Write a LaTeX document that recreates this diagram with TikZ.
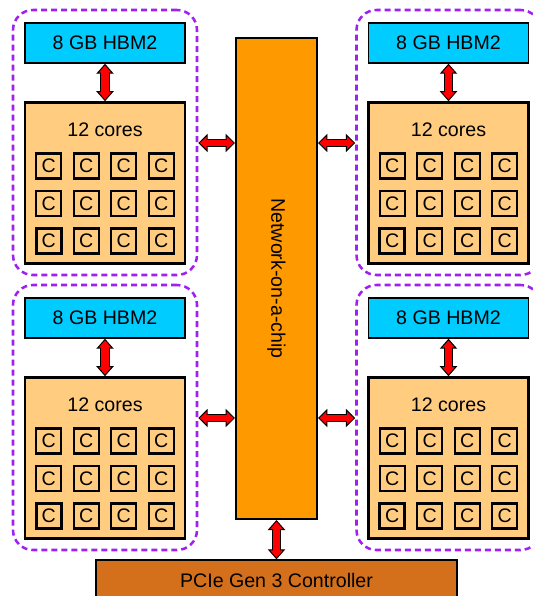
\documentclass[tikz,border=0pt]{standalone}
\usepackage{fontspec}
\setmainfont{Liberation Sans}
\usetikzlibrary{arrows.meta}

\definecolor{hbmblue}{RGB}{0,204,255}
\definecolor{corebg}{RGB}{255,204,128}
\definecolor{nocorange}{RGB}{255,153,0}
\definecolor{pciebrown}{RGB}{212,112,28}
\definecolor{grpviolet}{RGB}{160,32,240}

\tikzset{
    every node/.style={font=\fontsize{14.7pt}{17pt}\selectfont},
    hbmbox/.style={draw, line width=1.1pt, fill=hbmblue, minimum width=120pt, minimum height=30pt, inner sep=0pt},
    corebox/.style={draw, line width=2.2pt, fill=corebg, minimum width=120pt, minimum height=120.5pt, inner sep=0pt},
    cell/.style={draw, minimum size=18.75pt, inner sep=0pt},
    grpbox/.style={draw=grpviolet, line width=1.9pt, dash pattern=on 4.5pt off 3pt, rounded corners=15pt, minimum width=138pt, minimum height=198.75pt, inner sep=0pt},
    vlink/.style={draw=black, line width=7pt,
        {Triangle[length=7.5pt, width=13pt, fill=red, color=black, line width=0.75pt]}-{Triangle[length=7.5pt, width=13pt, fill=red, color=black, line width=0.75pt]},
        postaction={draw=red, line width=5.5pt, -, shorten <=6pt, shorten >=6pt}},
    hlink/.style={draw=black, line width=6.5pt,
        {Triangle[length=7pt, width=13.5pt, fill=red, color=black, line width=0.75pt]}-{Triangle[length=7pt, width=13.5pt, fill=red, color=black, line width=0.75pt]},
        postaction={draw=red, line width=5pt, -, shorten <=5.5pt, shorten >=5.5pt}}
}

\begin{document}
\begin{tikzpicture}[x=0.75pt, y=-0.75pt]
    \useasboundingbox (0,0) rectangle (532,596);
    \node[draw, line width=1.5pt, fill=nocorange, minimum width=60.75pt, minimum height=360.75pt, inner sep=0pt] (noc) at (276.5,278.5) {\rotatebox{-90}{Network-on-a-chip}};
    \node[draw, line width=1pt, fill=pciebrown, minimum width=270.75pt, minimum height=30pt, inner sep=0pt] (pcie) at (276.5,580) {PCIe Gen 3 Controller};
    \draw[vlink] (noc) -- (pcie);
    \foreach \n/\x/\y/\a/\b in {1/105/43/east/west, 2/448.5/43/west/east, 3/105/318/east/west, 4/448.5/318/west/east} {
        \begin{scope}[shift={(\x,\y)}]
            \node[grpbox] (grp\n) at (0,99.5) {};
            \node[hbmbox] (hbm\n) at (0,0) {8 GB HBM2};
            \node[corebox] (cores\n) at (0,140) {};
            \node (lbl\n) at (0,87) {12 cores};
            \foreach \i in {0,...,3}
                \foreach \j in {0,...,2} {
                    \pgfmathsetmacro\lw{(\i==0 && \j==2) ? 2.6 : 1.8}
                    \node[cell, fill=corebg, line width=\lw pt] (c\n-\i-\j) at (-56.25+37.5*\i, 123+37.5*\j) {C};
                }
            \draw[vlink] (hbm\n) -- (cores\n);
            \coordinate (p\n) at (0,100);
            \draw[hlink] (grp\n.\a |- p\n) -- (noc.\b |- p\n);
        \end{scope}
    }
\end{tikzpicture}
\end{document}
